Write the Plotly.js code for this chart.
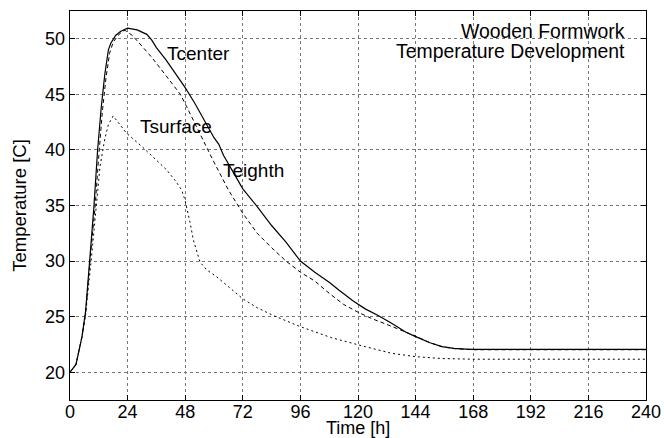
<!DOCTYPE html>
<html>
<head>
<meta charset="utf-8">
<script src="https://cdn.plot.ly/plotly-3.0.1.min.js"></script>
<style>html,body{margin:0;padding:0;background:#fff;}#chart{width:664px;height:438px;}</style>
</head>
<body>
<div id="chart"></div>
<script>
// Tcenter (solid)
const centerTime = [0, 2.5, 5, 6.5, 8, 10, 11.5, 13, 14.5, 16, 17, 19, 21, 24, 28, 32, 34, 36, 40, 44, 48, 52, 56, 60, 62, 64, 68, 72, 78, 84, 90, 96, 102, 108, 112, 118, 123, 128, 134, 140, 144, 150, 155, 160, 165, 168, 192, 216, 240];
const centerTemp = [20, 20.7, 23.2, 25.5, 29.5, 35, 40, 43.8, 46.8, 49.0, 49.6, 50.3, 50.65, 50.95, 50.8, 50.4, 49.9, 49.2, 48.1, 46.9, 45.6, 44.2, 42.7, 41.1, 40.5, 39.5, 38.0, 36.5, 34.9, 33.2, 31.7, 30.0, 29.0, 28.1, 27.4, 26.4, 25.7, 25.15, 24.4, 23.6, 23.2, 22.65, 22.3, 22.15, 22.08, 22.05, 22.05, 22.05, 22.05];
// Teighth (dashed)
const eighthTime = [0, 2.5, 5, 6.5, 8.3, 10.5, 12, 13.5, 15, 16.5, 18, 20, 22, 23, 26, 29, 33, 36, 40, 43, 46, 48.6, 51, 54, 57, 60, 62.5, 66, 72, 78, 84, 90, 96, 102, 108, 114, 120, 126, 132, 138, 144, 150, 155, 160, 168, 192, 216, 240];
const eighthTemp = [20, 20.7, 23.2, 25.3, 30, 35, 39.5, 43.5, 46.5, 48.7, 49.7, 50.3, 50.7, 50.75, 50.3, 49.6, 48.6, 47.8, 46.7, 45.8, 45.0, 43.9, 42.8, 41.5, 40.2, 38.9, 37.9, 36.4, 34.3, 32.5, 31.2, 30.0, 29.0, 28.2, 27.1, 26.1, 25.4, 24.8, 24.3, 23.8, 23.25, 22.65, 22.3, 22.12, 22.02, 22.02, 22.02, 22.02];
// Tsurface (dotted)
const surfaceTime = [0, 2.5, 5, 6.5, 8.8, 11, 12.5, 14.5, 16, 18, 20, 23.6, 30, 35, 40.3, 44, 46.5, 47.9, 49, 50, 51.4, 52.8, 54.2, 57, 61, 66, 72, 78, 84.7, 96, 109, 123, 134, 144, 155, 168, 192, 216, 240];
const surfaceTemp = [20, 20.7, 23.2, 25.2, 30, 35, 38.5, 41, 42.3, 43.05, 42.5, 41.5, 40.3, 39.3, 38.2, 37.2, 36.4, 35.5, 34.5, 33.5, 31.9, 30.8, 29.9, 29.2, 28.6, 27.7, 26.6, 25.8, 25.1, 24.1, 23.1, 22.3, 21.7, 21.4, 21.23, 21.17, 21.17, 21.17, 21.17];

const xTicks = [0, 24, 48, 72, 96, 120, 144, 168, 192, 216, 240];
const yTicks = [20, 25, 30, 35, 40, 45, 50];

const labelNames = ['Tcenter', 'Tsurface', 'Teighth'];
const labelX = [53.5, 44.1, 76.4];
const labelY = [48.7, 42.15, 38.15];

const titleLines = ['Wooden Formwork', 'Temperature Development'];

const FONT = 'Liberation Sans, Arial, Helvetica, sans-serif';

const traces = [
  {x: centerTime, y: centerTemp, mode: 'lines', name: 'Tcenter', line: {color: '#000', width: 1.2, dash: 'solid'}},
  {x: eighthTime, y: eighthTemp, mode: 'lines', name: 'Teighth', line: {color: '#000', width: 1, dash: '4px,3px'}},
  {x: surfaceTime, y: surfaceTemp, mode: 'lines', name: 'Tsurface', line: {color: '#000', width: 1, dash: '2px,3px'}}
];

const annotations = labelNames.map((t, i) => ({
  x: labelX[i], y: labelY[i], xref: 'x', yref: 'y', text: t, showarrow: false,
  xanchor: 'center', yanchor: 'middle', font: {family: FONT, size: 19, color: '#000'}
}));
titleLines.forEach((t, i) => annotations.push({
  x: 0.967, y: i === 0 ? 0.949 : 0.897, xref: 'paper', yref: 'paper', text: t, showarrow: false,
  xanchor: 'right', yanchor: 'middle', font: {family: FONT, size: 19.4, color: '#000'}
}));
// x-axis title placed just below the tick labels
annotations.push({
  x: 0.5, y: 0, xref: 'paper', yref: 'paper', yshift: -28, text: 'Time [h]', showarrow: false,
  xanchor: 'center', yanchor: 'middle', font: {family: FONT, size: 18, color: '#000'}
});

const axisCommon = {
  ticks: 'inside', ticklen: 5, tickwidth: 1, tickcolor: '#000',
  showline: true, linecolor: '#000', linewidth: 1.3, mirror: 'ticks',
  showgrid: true, gridcolor: '#777', griddash: 'dot', gridwidth: 1,
  zeroline: false, tickfont: {family: FONT, size: 18, color: '#000'}
};

const layout = {
  width: 664, height: 438,
  margin: {l: 70, r: 18, t: 11, b: 38},
  paper_bgcolor: '#fff', plot_bgcolor: '#fff',
  showlegend: false,
  font: {family: FONT, color: '#000'},
  xaxis: Object.assign({}, axisCommon, {
    range: [0, 240], tickmode: 'array', tickvals: xTicks, ticktext: xTicks.map(String),
    ticklabelstandoff: -5
  }),
  yaxis: Object.assign({}, axisCommon, {
    range: [17.5, 52.5], tickmode: 'array', tickvals: yTicks, ticktext: yTicks.map(String),
    title: {text: 'Temperature [C]', font: {family: FONT, size: 18.5, color: '#000'}, standoff: 13}
  }),
  annotations: annotations
};

Plotly.newPlot('chart', traces, layout, {displayModeBar: false, staticPlot: true});
</script>
</body>
</html>
